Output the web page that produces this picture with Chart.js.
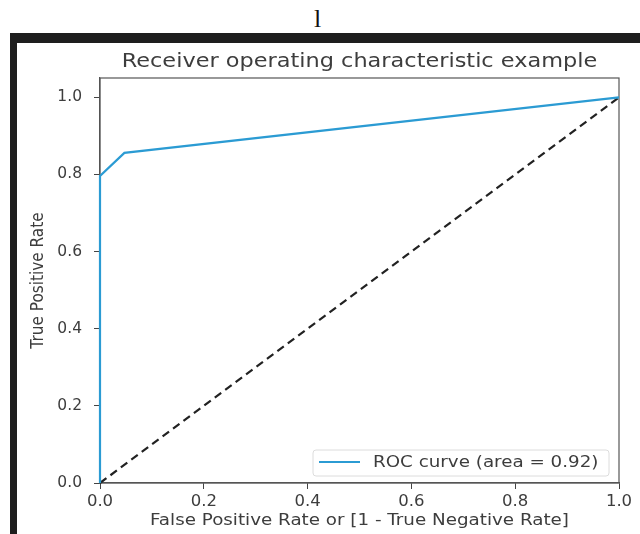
<!DOCTYPE html>
<html>
<head>
<meta charset="utf-8">
<script src="https://cdn.jsdelivr.net/npm/chart.js@4.4.0/dist/chart.umd.min.js"></script>
<style>
    body { margin: 0; background: #fff; width: 640px; height: 534px; overflow: hidden; position: relative; }
    #frame { position: absolute; left: 10px; top: 33px; width: 640px; height: 520px; border-top: 10px solid #1e1e1e; border-left: 7px solid #1e1e1e; }
    .doc { position: absolute; font-family: "Liberation Serif", "DejaVu Serif", serif; color: #111; font-size: 26px; line-height: 1; }
    #roc { position: absolute; left: 0; top: 0; }
</style>
</head>
<body>
<div class="doc" style="left:197px; top:-22px;">I</div>
<div class="doc" style="left:314px; top:6px;">l</div>
<div id="frame"></div>
<canvas id="roc" width="640" height="534"></canvas>
<script>
// values
const fpr = [0, 0, 0.047, 1];
const tpr = [0, 0.796, 0.856, 1];
const chance_x = [0, 1];
const chance_y = [0, 1];
const tick_values = [0, 0.2, 0.4, 0.6, 0.8, 1.0];

const chart_title = "Receiver operating characteristic example";
const x_title = "False Positive Rate or [1 - True Negative Rate]";
const y_title = "True Positive Rate";
const roc_label = "ROC curve (area = 0.92)";

const roc_color = "#2b9bd3";
const text_color = "#3d3d3d";
const stretch = 1.18; // the screenshot is a bit wider than tall

function to_points(xs, ys) {
    return xs.map((x, i) => ({ x: x, y: ys[i] }));
}

function wide_text(ctx, text, x, y) {
    ctx.save();
    ctx.translate(x, y);
    ctx.scale(stretch, 1);
    ctx.fillText(text, 0, 0);
    ctx.restore();
}

// spines on all four sides, drawn under the lines
const spines = {
    id: 'spines',
    beforeDatasetsDraw(chart) {
        const a = chart.chartArea;
        const ctx = chart.ctx;
        ctx.save();
        ctx.strokeStyle = '#555';
        ctx.lineWidth = 1.2;
        ctx.strokeRect(a.left, a.top, a.right - a.left, a.bottom - a.top);
        ctx.restore();
    }
};

// titles and legend, placed like matplotlib does
const labels = {
    id: 'labels',
    afterDraw(chart) {
        const a = chart.chartArea;
        const ctx = chart.ctx;
        const mid_x = (a.left + a.right) / 2;
        ctx.save();
        ctx.fillStyle = text_color;
        ctx.textBaseline = 'middle';
        ctx.textAlign = 'center';

        ctx.font = '19px "DejaVu Sans"';
        wide_text(ctx, chart_title, mid_x, 62);

        ctx.font = '15.5px "DejaVu Sans"';
        wide_text(ctx, x_title, mid_x, 521);

        ctx.save();
        ctx.translate(38, (a.top + a.bottom) / 2);
        ctx.rotate(-Math.PI / 2);
        ctx.scale(1, stretch);
        ctx.font = '15.3px "DejaVu Sans"';
        ctx.fillText(y_title, 0, 0);
        ctx.restore();

        // legend box
        const bx = 313, by = 450, bw = 296, bh = 26;
        ctx.beginPath();
        ctx.roundRect(bx, by, bw, bh, 3);
        ctx.fillStyle = 'rgba(255,255,255,0.85)';
        ctx.fill();
        ctx.strokeStyle = '#dcdcdc';
        ctx.lineWidth = 1;
        ctx.stroke();

        ctx.beginPath();
        ctx.moveTo(319, 462);
        ctx.lineTo(360, 462);
        ctx.strokeStyle = roc_color;
        ctx.lineWidth = 2.2;
        ctx.stroke();

        ctx.fillStyle = text_color;
        ctx.textAlign = 'left';
        ctx.font = '15.5px "DejaVu Sans"';
        wide_text(ctx, roc_label, 373, 463);
        ctx.restore();
    }
};

document.addEventListener("DOMContentLoaded", function() {
    const ctx = document.getElementById('roc');

    new Chart(ctx, {
        type: 'line',
        plugins: [spines, labels],
        data: {
            datasets: [{
                    label: roc_label,
                    data: to_points(fpr, tpr),
                    borderColor: roc_color,
                    borderWidth: 2.2,
                    pointRadius: 0,
                    tension: 0,
                    clip: 4
                },
                {
                    label: 'chance',
                    data: to_points(chance_x, chance_y),
                    borderColor: '#222',
                    borderWidth: 2.2,
                    borderDash: [8, 5],
                    pointRadius: 0,
                    clip: 4
                }
            ]
        },
        options: {
            responsive: false,
            animation: false,
            layout: {
                padding: { top: 78, right: 21, left: 0, bottom: 0 }
            },
            plugins: {
                legend: { display: false },
                tooltip: { enabled: false },
                title: { display: false }
            },
            scales: {
                x: {
                    type: 'linear',
                    min: 0,
                    max: 1,
                    afterFit: function(scale) { scale.height = 51; },
                    afterBuildTicks: function(scale) { scale.ticks = tick_values.map(v => ({ value: v })); },
                    ticks: {
                        color: text_color,
                        font: { family: 'DejaVu Sans', size: 16.5 },
                        padding: 3,
                        maxRotation: 0,
                        callback: v => v.toFixed(1)
                    },
                    grid: { drawOnChartArea: false, tickLength: 6, tickColor: '#444', tickWidth: 1 },
                    border: { color: '#555', width: 1.2 }
                },
                y: {
                    type: 'linear',
                    min: 0,
                    max: 1.05,
                    afterFit: function(scale) { scale.width = 100; },
                    afterBuildTicks: function(scale) { scale.ticks = tick_values.map(v => ({ value: v })); },
                    ticks: {
                        color: text_color,
                        font: { family: 'DejaVu Sans', size: 15.5 },
                        padding: 12,
                        callback: v => v.toFixed(1)
                    },
                    grid: { drawOnChartArea: false, tickLength: 6, tickColor: '#444', tickWidth: 1 },
                    border: { color: '#555', width: 1.2 }
                }
            }
        }
    });
});
</script>
</body>
</html>
